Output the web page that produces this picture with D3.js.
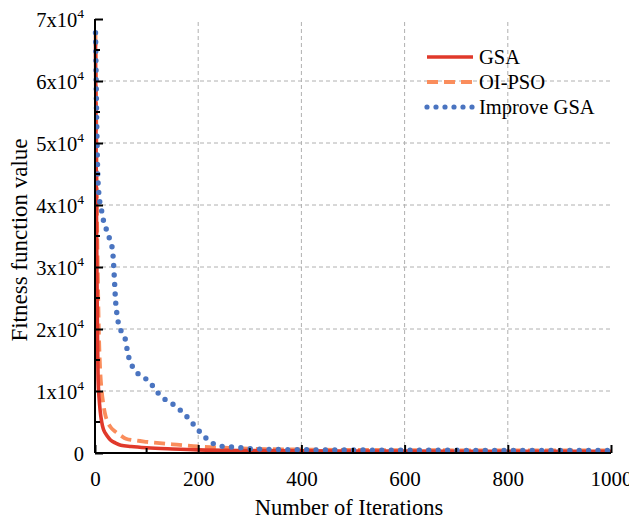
<!DOCTYPE html>
<html>
<head>
<meta charset="utf-8">
<script src="https://cdn.jsdelivr.net/npm/d3@7/dist/d3.min.js"></script>
<style>
  html, body { margin: 0; padding: 0; background: #fff; }
  svg { display: block; font-family: "Liberation Serif", "Times New Roman", serif; }
</style>
</head>
<body>
<svg id="chart" width="629" height="521"></svg>
<script>
// ---- data ----
const seriesNames = ["GSA", "OI-PSO", "Improve GSA"];

const gsaIter = [1, 2, 3, 4, 5, 6, 8, 10, 13, 16, 20, 25, 30, 40, 50, 70, 100, 150, 200, 300, 400, 500, 600, 700, 800, 900, 1000];
const gsaVal  = [66000, 50000, 37000, 26000, 17500, 12000, 8800, 6800, 5000, 3900, 3200, 2600, 2100, 1600, 1250, 1050, 850, 650, 500, 400, 350, 320, 300, 290, 280, 270, 260];

const oiIter = [1, 2, 3, 4, 6, 8, 10, 13, 16, 19, 25, 30, 40, 50, 60, 80, 100, 150, 200, 250, 300, 400, 500, 600, 800, 1000];
const oiVal  = [67500, 58000, 48000, 38000, 26000, 18000, 13500, 10000, 8000, 6500, 4900, 4200, 3400, 2800, 2300, 2000, 1800, 1400, 1050, 850, 700, 560, 500, 460, 420, 400];

const igsaIter = [1, 2, 3, 4, 5, 6, 8, 10, 14, 17, 24, 29, 34, 35.5, 36.5, 37.5, 38.5, 39.5, 41, 43, 46, 54, 60, 63, 68, 78, 98, 110, 123, 138, 154, 168, 182, 195, 209, 224, 240, 275, 310, 400, 500, 600, 800, 1000];
const igsaVal  = [67800, 62000, 55000, 50000, 46000, 43500, 41500, 40000, 38700, 37200, 35700, 34300, 32700, 31200, 29800, 28200, 26600, 25000, 23500, 22100, 20700, 19200, 17900, 16300, 14800, 13300, 12000, 11000, 9600, 8500, 7700, 6700, 5500, 4200, 2900, 1800, 1150, 900, 650, 520, 480, 450, 420, 400];

const xTicks = [0, 200, 400, 600, 800, 1000];
const xMinorTicks = [100, 300, 500, 700, 900];
const yTicks = [0, 10000, 20000, 30000, 40000, 50000, 60000, 70000];
const yTickMant = ["0", "1x10", "2x10", "3x10", "4x10", "5x10", "6x10", "7x10"];
const yMinorTicks = [5000, 15000, 25000, 35000, 45000, 55000, 65000];

const colors = ["#e0392b", "#fa8d5c", "#4a74c0"];

// ---- drawing ----
const svg = d3.select("#chart");
const x = d3.scaleLinear().domain([0, 1000]).range([95, 611]);
const y = d3.scaleLinear().domain([0, 70000]).range([453, 19]);

// grid
const grid = svg.append("g").attr("stroke", "#b0b0b0").attr("stroke-width", 1).attr("stroke-dasharray", "4,3");
grid.selectAll("line.h").data(yTicks.filter(v => v > 0 && v < 70000)).join("line")
  .attr("x1", x(0)).attr("x2", x(1000)).attr("y1", d => y(d)).attr("y2", d => y(d));
grid.selectAll("line.v").data(xTicks.filter(v => v > 0 && v < 1000)).join("line")
  .attr("x1", d => x(d)).attr("x2", d => x(d)).attr("y1", y(0)).attr("y2", y(70000));

// series lines
const mk = (it, vals) => it.map((d, i) => [d, vals[i]]);
const line = d3.line().x(d => x(d[0])).y(d => y(d[1])).curve(d3.curveMonotoneX);
const plot = svg.append("g").attr("fill", "none");
plot.append("path").datum(mk(oiIter, oiVal)).attr("d", line)
  .attr("stroke", colors[1]).attr("stroke-width", 3.8).attr("stroke-dasharray", "11,6");
plot.append("path").datum(mk(gsaIter, gsaVal)).attr("d", line)
  .attr("stroke", colors[0]).attr("stroke-width", 3.6);
plot.append("path").datum(mk(igsaIter, igsaVal)).attr("d", line)
  .attr("stroke", colors[2]).attr("stroke-width", 5.4).attr("stroke-linecap", "round").attr("stroke-dasharray", "0,9.4");

// axes (ticks pointing inward)
const xAxis = d3.axisBottom(x).tickValues(xTicks).tickSize(-8).tickPadding(20).tickFormat(d3.format("d"));
const gx = svg.append("g").attr("transform", `translate(0,${y(0)})`).call(xAxis);
gx.select(".domain").attr("stroke", "#000").attr("stroke-width", 2).attr("d", `M${x(0)},0H${x(1000)}`);
gx.selectAll(".tick line").attr("stroke", "#000").attr("stroke-width", 2);
gx.selectAll(".tick text").attr("font-size", 21).attr("fill", "#000").attr("font-family", "Liberation Serif, serif").attr("dy", "0.71em").attr("y", 18);
gx.append("g").selectAll("line").data(xMinorTicks).join("line")
  .attr("x1", d => x(d)).attr("x2", d => x(d)).attr("y1", 0).attr("y2", -5)
  .attr("stroke", "#000").attr("stroke-width", 2);

const yAxis = d3.axisLeft(y).tickValues(yTicks).tickSize(-8).tickFormat("");
const gy = svg.append("g").attr("transform", `translate(${x(0)},0)`).call(yAxis);
gy.select(".domain").attr("stroke", "#000").attr("stroke-width", 2).attr("d", `M0,${y(70000)}V${y(0)}`);
gy.selectAll(".tick line").attr("stroke", "#000").attr("stroke-width", 2);
gy.append("g").selectAll("line").data(yMinorTicks).join("line")
  .attr("x1", 0).attr("x2", 5).attr("y1", d => y(d)).attr("y2", d => y(d))
  .attr("stroke", "#000").attr("stroke-width", 2);

// y tick labels with superscript
const yl = svg.append("g").attr("font-size", 20.5).attr("fill", "#000").attr("text-anchor", "end");
yTicks.forEach((v, i) => {
  const t = yl.append("text").attr("x", 84).attr("y", y(v) + 7.5);
  if (v === 0) { t.text("0"); }
  else {
    t.append("tspan").text(yTickMant[i]);
    t.append("tspan").attr("font-size", 13.5).attr("dy", -8.5).text("4");
  }
});

// axis titles
svg.append("text").attr("x", 349).attr("y", 515)
  .attr("text-anchor", "middle").attr("font-size", 22.5).attr("fill", "#000").text("Number of Iterations");
svg.append("text").attr("transform", "translate(27,240) rotate(-90)")
  .attr("text-anchor", "middle").attr("font-size", 23).attr("fill", "#000").text("Fitness function value");

// legend
const leg = svg.append("g");
const legY = [57, 82, 107];
const legStyles = [
  {w: 3.6, dash: null, cap: "butt"},
  {w: 3.8, dash: "11,6", cap: "butt"},
  {w: 5.2, dash: "0,9", cap: "round"}
];
seriesNames.forEach((n, i) => {
  const l = leg.append("line").attr("x1", 427).attr("x2", 473).attr("y1", legY[i]).attr("y2", legY[i])
    .attr("stroke", colors[i]).attr("stroke-width", legStyles[i].w).attr("stroke-linecap", legStyles[i].cap);
  if (legStyles[i].dash) l.attr("stroke-dasharray", legStyles[i].dash);
  leg.append("text").attr("x", 479).attr("y", legY[i] + 7).attr("font-size", 20.5).attr("fill", "#000").text(n);
});
</script>
</body>
</html>
